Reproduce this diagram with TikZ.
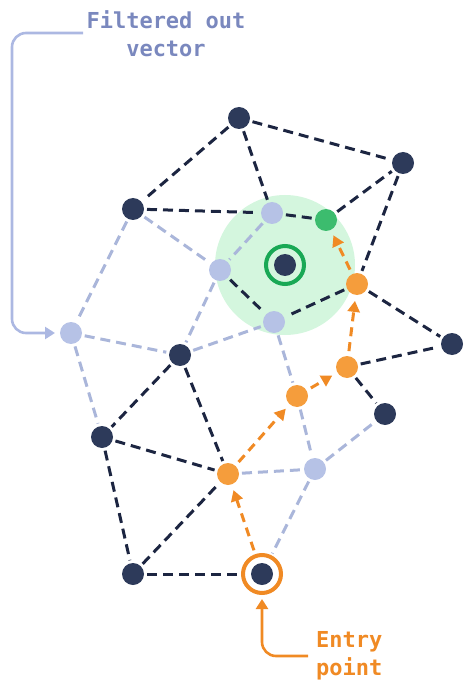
\documentclass[tikz,border=0pt]{standalone}
\usepackage{fontspec}
\newfontfamily\monofont{DejaVu Sans Mono}
\usetikzlibrary{arrows.meta}
\definecolor{navy}{RGB}{45,58,90}
\definecolor{navyline}{RGB}{28,37,65}
\definecolor{faded}{RGB}{182,194,230}
\definecolor{fadedline}{RGB}{170,182,218}
\definecolor{amber}{RGB}{245,157,60}
\definecolor{amberline}{RGB}{240,138,36}
\definecolor{leaf}{RGB}{60,188,110}
\definecolor{ring}{RGB}{25,168,85}
\definecolor{halo}{RGB}{212,246,222}
\definecolor{note}{RGB}{122,136,190}
\definecolor{noteline}{RGB}{172,184,226}
\tikzset{
  vec/.style={circle,inner sep=0pt,minimum size=22pt,outer sep=3pt},
  live/.style={vec,fill=navy},
  gone/.style={vec,fill=faded},
  hop/.style={vec,fill=amber},
  found/.style={vec,fill=leaf},
  halo ring/.style={circle,inner sep=0pt,minimum size=38pt,line width=4pt,outer sep=4pt},
  link/.style={draw=navyline,line width=3pt,dash pattern=on 10pt off 6pt},
  dimlink/.style={link,draw=fadedline},
  walk/.style={draw=amberline,line width=3pt,dash pattern=on 9pt off 6pt,
    -{Triangle[length=11pt,width=12pt]},shorten >=3pt,shorten <=2pt},
  callout/.style={line width=2.6pt,rounded corners=14pt,
    -{Triangle[length=10pt,width=12pt]},shorten >=2pt},
  label font/.style={font=\monofont\bfseries\fontsize{22}{28}\selectfont,inner sep=0pt}
}
\begin{document}
\begin{tikzpicture}[x=1pt,y=-1pt]
    \useasboundingbox (0,0) rectangle (474,692);
    %% search area round the query
    \fill[halo] (285,265) circle (70);
    %% vectors still in the graph
    \node[live] (top) at (239,118) {};
    \node[live] (ne) at (403,163) {};
    \node[live] (nw) at (133,209) {};
    \node[live] (east) at (452,344) {};
    \node[live] (mid) at (180,355) {};
    \node[live] (se) at (385,414) {};
    \node[live] (west) at (102,437) {};
    \node[live] (sw) at (133,574) {};
    %% filtered out vectors
    \node[gone] (f1) at (272,213) {};
    \node[gone] (f2) at (220,270) {};
    \node[gone] (f3) at (274,322) {};
    \node[gone] (f4) at (71,333) {};
    \node[gone] (f5) at (315,469) {};
    %% visited on the way
    \node[hop] (h1) at (228,474) {};
    \node[hop] (h2) at (297,396) {};
    \node[hop] (h3) at (347,367) {};
    \node[hop] (h4) at (357,284) {};
    \node[found] (hit) at (326,220) {};
    %% query and entry point
    \node[live] (query) at (285,265) {};
    \node[halo ring,draw=ring] (qring) at (query) {};
    \node[live] (entry) at (262,574) {};
    \node[halo ring,draw=amberline] (ering) at (entry) {};
    %% edges
    \foreach \a/\b in {top/ne,top/nw,top/f1,nw/f1,f1/hit,hit/ne,ne/h4,h4/east,
        h4/f3,f2/f3,mid/west,mid/h1,west/h1,west/sw,sw/h1,sw/ering,h3/east,h3/se}
        \draw[link] (\a) -- (\b);
    \foreach \a/\b in {nw/f2,nw/f4,f4/mid,f4/west,f2/mid,f1/f2,mid/f3,f3/h2,
        h2/f5,h1/f5,f5/se,f5/ering}
        \draw[dimlink] (\a) -- (\b);
    %% search path
    \foreach \a/\b in {ering/h1,h1/h2,h2/h3,h3/h4,h4/hit}
        \draw[walk] (\a) -- (\b);
    %% labels
    \node[label font,text=note,align=center] (filt) at (166,34) {Filtered out\\vector};
    \coordinate (fnote) at (83,33);
    \draw[callout,draw=noteline,fill=none] (fnote) -- (12,33) -- (12,333) -- (f4);
    \node[label font,text=amberline,align=left,anchor=west] (start) at (316,656) {Entry\\point};
    \coordinate (enote) at (308,656);
    \draw[callout,draw=amberline] (enote) -- (262,656) -- (ering);
\end{tikzpicture}
\end{document}
